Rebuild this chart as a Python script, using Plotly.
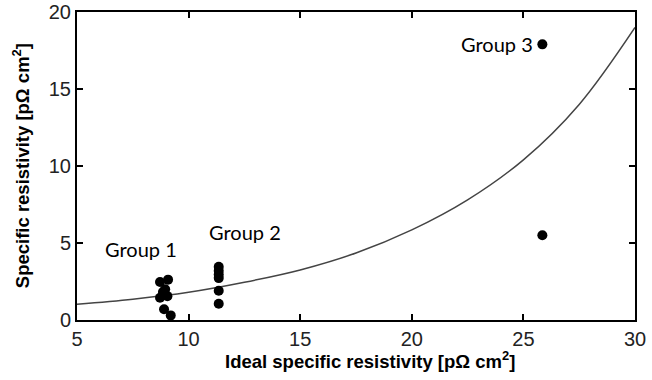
import plotly.graph_objects as go

g1_x = [8.72, 9.08, 8.85, 8.95, 8.72, 9.05, 8.9, 9.2]
g1_y = [2.47, 2.62, 1.82, 2.0, 1.45, 1.55, 0.7, 0.3]
g2_x = [11.35, 11.35, 11.35, 11.35, 11.35, 11.35]
g2_y = [3.45, 3.2, 2.95, 2.72, 1.9, 1.05]
g3_x = [25.85, 25.85]
g3_y = [17.9, 5.5]

# Fitted curve samples
curve_x = [5, 7.5, 10, 12.5, 15, 17.5, 20, 22.5, 25, 27.5, 30]
curve_y = [1.02, 1.35, 1.8, 2.45, 3.25, 4.35, 5.85, 7.8, 10.4, 14.0, 19.0]

labels = ["Group 1", "Group 2", "Group 3"]
label_x = [7.87, 12.53, 23.82]
label_y = [4.6, 5.7, 17.9]

x_ticks = [5, 10, 15, 20, 25, 30]
y_ticks = [0, 5, 10, 15, 20]

x_title = "<b>Ideal specific resistivity [pΩ cm<sup>2</sup>]</b>"
y_title = "<b>Specific resistivity [pΩ cm<sup>2</sup>]</b>"

fig = go.Figure()
fig.add_trace(go.Scatter(x=curve_x, y=curve_y, mode="lines",
                         line=dict(color="#444444", width=1.5, shape="spline"),
                         showlegend=False, hoverinfo="skip"))
for xs, ys in [(g1_x, g1_y), (g2_x, g2_y), (g3_x, g3_y)]:
    fig.add_trace(go.Scatter(x=xs, y=ys, mode="markers",
                             marker=dict(color="black", size=10),
                             showlegend=False))

for t, x, y in zip(labels, label_x, label_y):
    fig.add_annotation(x=x, y=y, text=t, showarrow=False,
                       font=dict(family="Lato", size=20, color="black"))

tick_font = dict(family="Liberation Sans, Arial", size=20, color="#222")
title_font = dict(family="Liberation Sans, Arial", size=18.5, color="black")

axis_common = dict(showline=True, linecolor="black", linewidth=2,
                   mirror="ticks", ticks="inside", ticklen=6, tickwidth=2,
                   tickcolor="black", showgrid=False, zeroline=False,
                   automargin=False, tickfont=tick_font)

fig.update_xaxes(range=[5, 30], tickvals=x_ticks, **axis_common)
fig.update_yaxes(range=[0, 20], tickvals=y_ticks, **axis_common)

fig.add_annotation(xref="paper", yref="paper", x=0.525, y=-0.085,
                   xanchor="center", yanchor="top", text=x_title,
                   showarrow=False, font=title_font)
fig.add_annotation(xref="paper", yref="paper", x=-0.1, y=0.5,
                   xanchor="center", yanchor="middle", text=y_title,
                   textangle=-90, showarrow=False, font=title_font)

fig.update_layout(width=652, height=380,
                  margin=dict(l=77, r=17, t=12, b=60, autoexpand=False),
                  plot_bgcolor="white", paper_bgcolor="white")

fig.write_html("out.html")
